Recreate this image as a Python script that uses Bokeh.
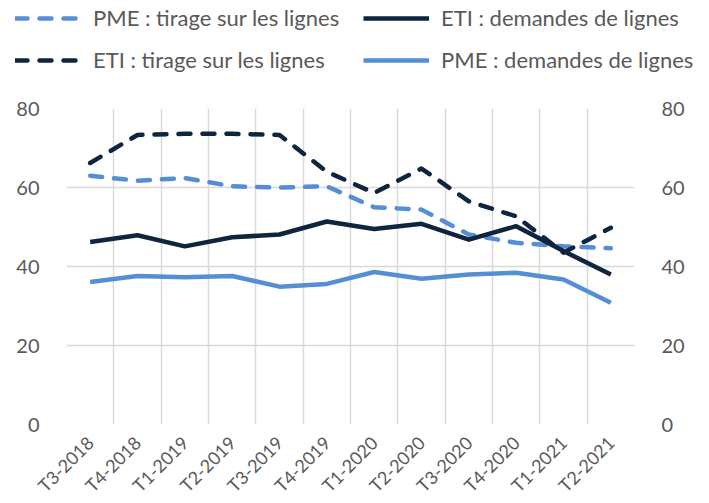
import numpy as np
from bokeh.plotting import figure
from bokeh.layouts import column
from bokeh.models import Range1d, LinearAxis, FixedTicker, Legend, LegendItem
from bokeh.embed import file_html
from bokeh.resources import INLINE

categories = ["T3-2018", "T4-2018", "T1-2019", "T2-2019", "T3-2019", "T4-2019",
              "T1-2020", "T2-2020", "T3-2020", "T4-2020", "T1-2021", "T2-2021"]
pme_tirage = [63.0, 61.7, 62.4, 60.3, 60.0, 60.3, 55.0, 54.4, 48.1, 46.0, 45.1, 44.6]
eti_demandes = [46.2, 47.9, 45.1, 47.4, 48.1, 51.4, 49.5, 50.8, 46.8, 50.2, 43.9, 38.0]
eti_tirage = [66.2, 73.3, 73.6, 73.6, 73.3, 64.0, 58.6, 64.8, 56.5, 52.7, 43.5, 49.8]
pme_demandes = [36.1, 37.6, 37.3, 37.6, 34.9, 35.6, 38.6, 36.9, 38.0, 38.4, 36.7, 30.8]
y_ticks = [0, 20, 40, 60, 80]

DARK = "#0F243E"
LIGHT = "#558ED5"
GRID = "#D9D9D9"
TXT = "#595959"
FONT = "Lato"
W = 4.5
DASH = "12 12"

n = len(categories)
xs = list(np.arange(n) + 0.5)

series = [
    ("PME : tirage sur les lignes", pme_tirage, LIGHT, DASH),
    ("ETI : tirage sur les lignes", eti_tirage, DARK, DASH),
    ("ETI : demandes de lignes", eti_demandes, DARK, "solid"),
    ("PME : demandes de lignes", pme_demandes, LIGHT, "solid"),
]

# ---------------- main chart ----------------
p = figure(frame_width=568, frame_height=316, output_backend="svg", toolbar_location=None,
           x_range=Range1d(0, n), y_range=Range1d(0, 80),
           min_border_left=66, min_border_right=66, min_border_top=28, min_border_bottom=60)
p.outline_line_color = None
p.frame_align = False

p.xgrid.ticker = FixedTicker(ticks=list(range(n + 1)))
p.ygrid.ticker = FixedTicker(ticks=y_ticks)
for g in (p.xgrid, p.ygrid):
    g.grid_line_color = GRID
    g.grid_line_width = 1.5

p.xaxis.ticker = FixedTicker(ticks=xs)
p.xaxis.major_label_overrides = {x: c for x, c in zip(xs, categories)}
p.xaxis.major_label_orientation = np.pi / 4
p.xaxis.axis_line_color = None
p.xaxis.major_tick_line_color = None
p.xaxis.minor_tick_line_color = None
p.xaxis.major_label_text_font = FONT
p.xaxis.major_label_text_font_size = "18px"
p.xaxis.major_label_text_color = TXT
p.xaxis.major_label_standoff = 9

p.yaxis.ticker = FixedTicker(ticks=y_ticks)
right = LinearAxis(ticker=FixedTicker(ticks=y_ticks))
p.add_layout(right, "right")
for ax in (p.yaxis[0], right):
    ax.axis_line_color = None
    ax.major_tick_line_color = None
    ax.minor_tick_line_color = None
    ax.major_label_text_font = FONT
    ax.major_label_text_font_size = "20px"
    ax.major_label_text_color = TXT
p.yaxis[0].major_label_standoff = 21
right.major_label_standoff = 21

for name, vals, col, dash in series:
    p.line(xs, vals, line_color=col, line_width=W, line_dash=dash,
           line_cap="round" if dash != "solid" else "butt", line_join="round")

# ---------------- legend strip ----------------
lf = figure(width=700, height=80, output_backend="svg", toolbar_location=None,
            x_range=Range1d(-100, -99), y_range=Range1d(-100, -99),
            min_border_left=0, min_border_right=0, min_border_top=0, min_border_bottom=0)
lf.outline_line_color = None
lf.frame_align = False
lf.axis.visible = False
lf.grid.visible = False
rends = {}
for name, vals, col, dash in series:
    rends[name] = lf.line(xs, vals, line_color=col, line_width=W, line_dash=dash,
                          line_cap="round" if dash != "solid" else "butt")

def make_legend(names, loc):
    lg = Legend(items=[LegendItem(label=nm, renderers=[rends[nm]]) for nm in names],
                location=loc, orientation="vertical")
    lg.background_fill_alpha = 0
    lg.border_line_color = None
    lg.padding = 0
    lg.margin = 0
    lg.spacing = 15
    lg.glyph_width = 66
    lg.glyph_height = 26
    lg.label_height = 26
    lg.label_standoff = 12
    lg.label_text_font = FONT
    lg.label_text_font_size = "22px"
    lg.label_text_color = TXT
    lf.add_layout(lg, "center")

make_legend(["PME : tirage sur les lignes", "ETI : tirage sur les lignes"], (15, 7))
make_legend(["ETI : demandes de lignes", "PME : demandes de lignes"], (363, 7))

layout = column(lf, p, spacing=0)
open("out.html", "w").write(file_html(layout, INLINE))
